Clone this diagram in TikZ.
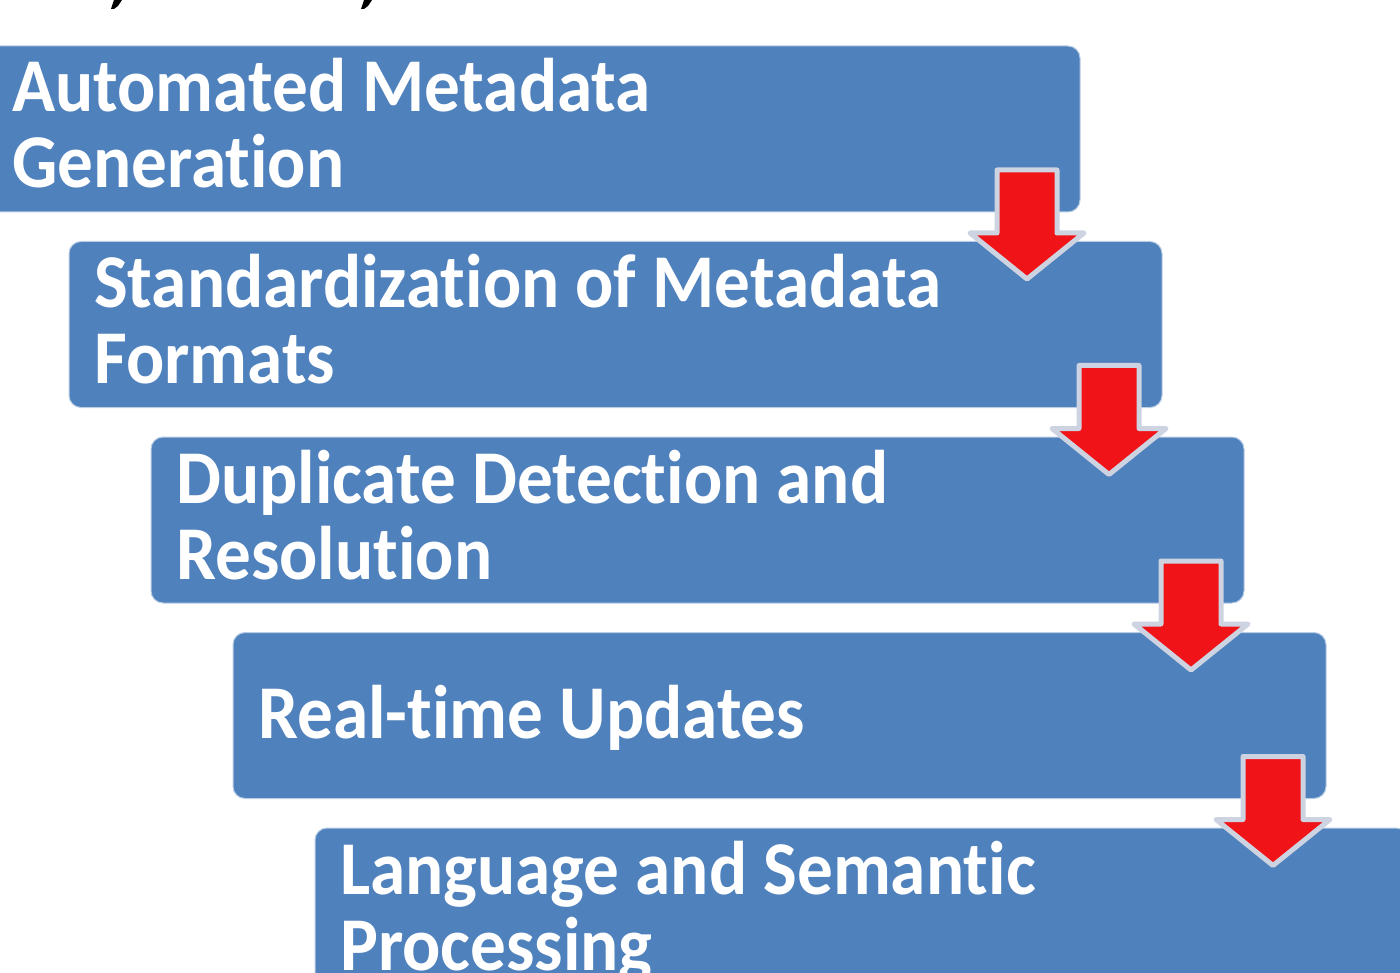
\documentclass[tikz,border=0pt]{standalone}
\usepackage{fontspec}
\setmainfont{Carlito}[FakeStretch=0.937, Ligatures=NoCommon]
\usetikzlibrary{calc}
\definecolor{boxblue}{RGB}{79,129,189}
\definecolor{boxedge}{RGB}{185,205,229}
\definecolor{arrred}{RGB}{240,20,24}
\definecolor{arredge}{RGB}{205,211,224}
\tikzset{
  stepbox/.style={rectangle, rounded corners=12pt, fill=boxblue, draw=boxedge, line width=1pt,
    minimum width=1093pt, minimum height=166pt, anchor=north west, inner sep=0pt, outer sep=0pt},
  label text/.style={anchor=base west, inner sep=0pt, text=white,
    font=\bfseries\fontsize{76}{77}\selectfont},
  downarrow/.style={fill=arrred, draw=arredge, line width=5pt, line join=round}
}
\newcommand{\downarr}[1]{%
  \path[downarrow]
    ($(#1.south east)+(-83,-42)$) -- ($(#1.south east)+(-83,21)$) --
    ($(#1.south east)+(-110,21)$) -- ($(#1.south east)+(-53,67)$) --
    ($(#1.south east)+(4,21)$) -- ($(#1.south east)+(-23,21)$) --
    ($(#1.south east)+(-23,-42)$) -- cycle;}
\begin{document}
\begin{tikzpicture}[x=1pt,y=-1pt]
  \useasboundingbox (0,0) rectangle (1400,973);
  \clip (0,0) rectangle (1400,973);
  \fill[white] (0,0) rectangle (1400,973);
  % fragments of the cut-off title
  \fill[black] (114,0) -- (122,0) -- (118,6) -- (114,9) -- (111,9) -- cycle;
  \fill[black] (364,0) -- (372,0) -- (368,6) -- (364,9) -- (361,9) -- cycle;
  % boxes
  \node[stepbox] (b1) at (-13,46) {};
  \node[stepbox] (b2) at (69,241.5) {};
  \node[stepbox] (b3) at (151,437) {};
  \node[stepbox] (b4) at (233,632.5) {};
  \node[stepbox] (b5) at (315,828) {};
  % texts
  \node[label text] (t1a) at (12,112) {Automated Metadata};
  \node[label text] (t1b) at (12,188) {Generation};
  \node[label text] (t2a) at (94,307.5) {Standardization of Metadata};
  \node[label text] (t2b) at (94,384) {Formats};
  \node[label text] (t3a) at (176,503) {Duplicate Detection and};
  \node[label text] (t3b) at (176,579.5) {Resolution};
  \node[label text] (t4a) at (258,738) {Real-time Updates};
  \node[label text] (t5a) at (340,894) {Language and Semantic};
  \node[label text] (t5b) at (340,970) {Processing};
  % arrows
  \downarr{b1}
  \downarr{b2}
  \downarr{b3}
  \downarr{b4}
\end{tikzpicture}
\end{document}
